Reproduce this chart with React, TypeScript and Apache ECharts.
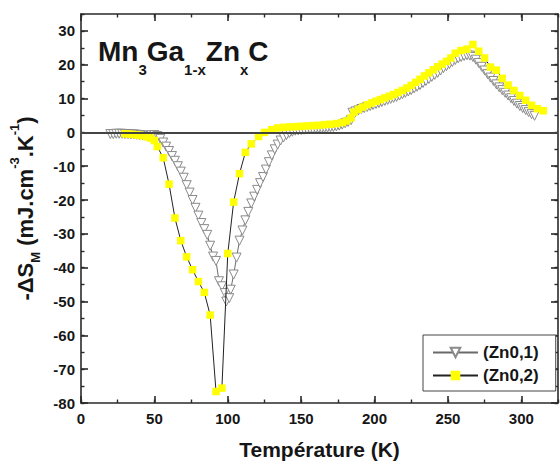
import React, { useEffect, useRef } from "react";
import * as echarts from "echarts";

const FONT = "'Liberation Sans', Arial, Helvetica, sans-serif";

// Zn0,1 : grey open down-triangles
const tempsZn01 = [
  20, 22, 24, 26, 28, 30, 32, 34, 36, 38, 40, 42, 44, 46, 48, 50, 52, 54, 56, 58,
  60, 62, 64, 66, 68, 70, 72, 74, 76, 78, 80, 82, 84, 86, 88, 90, 92, 94, 96, 98,
  99, 101, 102, 104, 106, 108, 110, 112, 114, 116, 118, 120, 122, 124, 126, 128, 130, 132, 134, 136,
  138, 140, 142, 144, 146, 148, 150, 152, 154, 156, 158, 160, 162, 164, 166, 168, 170, 172, 174, 176,
  178, 180, 182, 184, 185, 187, 189, 191, 193, 195, 197, 199, 201, 203, 205, 207, 209, 211, 213, 215,
  217, 219, 221, 223, 225, 227, 229, 231, 233, 235, 237, 239, 241, 243, 245, 247, 249, 251, 253, 255,
  257, 259, 261, 263, 265, 267, 269, 271, 273, 275, 277, 279, 281, 283, 285, 287, 289, 291, 293, 295,
  297, 299, 301, 303, 305, 307, 309,
];
const valuesZn01 = [
  -0.5, -0.5, -0.4, -0.4, -0.4, -0.5, -0.5, -0.6, -0.6, -0.7, -0.8, -0.9, -1.0, -1.0, -0.9, -0.8, -1.1, -1.9, -3.0, -4.2,
  -5.5, -7.0, -8.4, -10.0, -11.6, -13.4, -15.6, -17.8, -20.0, -22.3, -24.6, -26.8, -28.6, -30.3, -33.5, -36.7, -38.0, -44.0, -45.5, -47.5,
  -50.0, -49.0, -46.5, -42.0, -37.0, -32.0, -29.0, -26.0, -23.5, -21.0, -19.0, -17.0, -15.0, -13.2, -11.0, -8.8, -6.8, -5.0, -3.6, -2.4,
  -1.5, -0.8, -0.2, 0.2, 0.5, 0.6, 0.7, 0.8, 0.9, 1.0, 1.0, 1.1, 1.2, 1.2, 1.3, 1.4, 1.5, 1.6, 1.8, 2.0,
  2.3, 2.7, 3.1, 3.6, 5.8, 6.2, 6.5, 6.9, 7.2, 7.5, 7.8, 8.1, 8.4, 8.7, 9.0, 9.3, 9.6, 9.9, 10.2, 10.5,
  10.9, 11.3, 11.7, 12.1, 12.5, 13.0, 13.5, 14.0, 14.6, 15.2, 15.8, 16.4, 17.0, 17.6, 18.3, 19.0, 19.6, 20.2, 20.8, 21.4,
  21.9, 22.3, 22.6, 22.8, 22.7, 22.3, 21.5, 20.5, 19.4, 18.3, 17.2, 16.2, 15.2, 14.2, 13.3, 12.5, 11.7, 10.9, 10.1, 9.3,
  8.5, 7.8, 7.2, 6.6, 6.0, 5.4, 4.9,
];

// Zn0,2 : yellow squares
const tempsZn02 = [
  30, 32.5, 35, 37.5, 40, 42.5, 45, 47.5, 50, 52, 56, 60, 64, 68, 72, 76, 80, 84, 88, 92,
  96, 100, 104, 108, 112, 116, 121, 125, 130, 134, 138, 142, 146, 150, 154, 158, 162, 166, 170, 174,
  178, 181, 184, 186, 189, 192, 195, 198, 201, 204, 207, 210, 213, 216, 219, 222, 225, 228, 231, 234,
  237, 240, 243, 246, 249, 252, 255, 259, 263, 267, 271, 275, 279, 283, 287, 291, 295, 299, 303, 307,
  311, 315,
];
const valuesZn02 = [
  -0.4, -0.5, -0.6, -0.7, -0.8, -1.0, -1.3, -1.7, -2.4, -4.2, -7.5, -15.3, -25.3, -32.0, -36.8, -40.6, -44.1, -47.3, -54.0, -76.6,
  -75.6, -35.8, -20.6, -12.2, -5.9, -3.4, -1.2, 0.0, 0.8, 1.3, 1.5, 1.6, 1.7, 1.8, 1.9, 2.0, 2.1, 2.3, 2.4, 2.6,
  2.9, 3.4, 4.3, 6.0, 6.8, 7.5, 8.2, 8.7, 9.2, 9.7, 10.2, 10.7, 11.2, 11.8, 12.4, 13.1, 13.9, 14.8, 15.7, 16.7,
  17.6, 18.5, 19.4, 20.2, 21.0, 22.0, 23.4, 24.2, 24.6, 26.0, 24.0, 22.0, 19.3, 18.4, 16.0, 14.0, 12.4, 10.9, 9.5, 8.0,
  7.0, 6.4,
];

const seriesNames = ["(Zn0,1)", "(Zn0,2)"];
const xMajorTicks = [0, 50, 100, 150, 200, 250, 300];
const yMajorTicks = [-80, -70, -60, -50, -40, -30, -20, -10, 0, 10, 20, 30];

const AXIS_COLOR = "#2a2a2a";
const TEXT_COLOR = "#161616";

function majorX(position: string, labels: boolean) {
  return {
    type: "value",
    position,
    min: 0,
    max: 325,
    interval: 50,
    axisLine: { show: true, onZero: false, lineStyle: { color: AXIS_COLOR, width: 1.6 } },
    axisTick: { show: true, inside: true, length: 7, customValues: xMajorTicks, lineStyle: { color: AXIS_COLOR, width: 1.6 } },
    axisLabel: {
      show: labels,
      customValues: xMajorTicks,
      margin: 8,
      fontSize: 15,
      fontWeight: "bold",
      fontFamily: FONT,
      color: TEXT_COLOR,
    },
    splitLine: { show: false },
  };
}
function minorX(position: string) {
  return {
    type: "value",
    position,
    min: 0,
    max: 325,
    interval: 25,
    axisLine: { show: false, onZero: false },
    axisTick: { show: true, inside: true, length: 3.5, lineStyle: { color: AXIS_COLOR, width: 1.4 } },
    axisLabel: { show: false },
    splitLine: { show: false },
  };
}
function majorY(position: string, labels: boolean) {
  return {
    type: "value",
    position,
    min: -80,
    max: 35,
    interval: 10,
    axisLine: { show: true, onZero: false, lineStyle: { color: AXIS_COLOR, width: 1.6 } },
    axisTick: { show: true, inside: true, length: 7, customValues: yMajorTicks, lineStyle: { color: AXIS_COLOR, width: 1.6 } },
    axisLabel: {
      show: labels,
      customValues: yMajorTicks,
      margin: 6,
      fontSize: 15,
      fontWeight: "bold",
      fontFamily: FONT,
      color: TEXT_COLOR,
    },
    splitLine: { show: false },
  };
}
function minorY(position: string) {
  return {
    type: "value",
    position,
    min: -80,
    max: 35,
    interval: 5,
    axisLine: { show: false, onZero: false },
    axisTick: { show: true, inside: true, length: 3.5, lineStyle: { color: AXIS_COLOR, width: 1.4 } },
    axisLabel: { show: false },
    splitLine: { show: false },
  };
}

export default function App() {
  const ref = useRef<HTMLDivElement>(null);

  useEffect(() => {
    if (!ref.current) return;
    const chart = echarts.init(ref.current, null, { renderer: "svg" });

    const dataZn01 = tempsZn01.map((t, i) => [t, valuesZn01[i]]);
    const dataZn02 = tempsZn02.map((t, i) => [t, valuesZn02[i]]);

    const xBottom: any = majorX("bottom", true);
    xBottom.name = "Température (K)";
    xBottom.nameLocation = "middle";
    xBottom.nameGap = 36;
    xBottom.nameTextStyle = { fontSize: 21, fontWeight: "bold", fontFamily: FONT, color: TEXT_COLOR };

    const yLeft: any = majorY("left", true);
    yLeft.name = "{m|-ΔS}{s|M}{m| (mJ.cm}{p|-3}{m|.K}{p|-1}{m|)}";
    yLeft.nameLocation = "middle";
    yLeft.nameRotate = 90;
    yLeft.nameGap = 32;
    yLeft.nameTextStyle = {
      fontSize: 22,
      fontWeight: "bold",
      fontFamily: FONT,
      color: TEXT_COLOR,
      rich: {
        m: { fontSize: 22, lineHeight: 34, fontWeight: "bold", fontFamily: FONT, color: TEXT_COLOR },
        s: { fontSize: 13, lineHeight: 13, verticalAlign: "bottom", fontWeight: "bold", fontFamily: FONT, color: TEXT_COLOR },
        p: { fontSize: 13, lineHeight: 13, verticalAlign: "top", fontWeight: "bold", fontFamily: FONT, color: TEXT_COLOR },
      },
    };

    const option: any = {
      animation: false,
      backgroundColor: "#ffffff",
      grid: { left: 81, top: 14, right: 2, bottom: 62, containLabel: false },
      xAxis: [xBottom, majorX("top", false), minorX("bottom"), minorX("top")],
      yAxis: [yLeft, majorY("right", false), minorY("left"), minorY("right")],
      legend: {
        orient: "vertical",
        left: 423,
        top: 335,
        data: seriesNames,
        itemWidth: 45,
        itemHeight: 12,
        itemGap: 6,
        padding: [9, 17, 7, 9],
        backgroundColor: "#ffffff",
        borderColor: "#444",
        borderWidth: 1,
        borderRadius: 0,
        textStyle: { fontSize: 17, fontWeight: "bold", fontFamily: FONT, color: TEXT_COLOR },
      },
      graphic: [
        {
          type: "text",
          x: 98,
          y: 26,
          style: {
            text: "{m|Mn}{s|3}{m|Ga}{s|1-x}{m|Zn}{s|x}{m|C}",
            verticalAlign: "top",
            align: "left",
            rich: {
              m: { fontSize: 28, lineHeight: 51, fontWeight: "bold", fontFamily: FONT, fill: TEXT_COLOR },
              s: { fontSize: 15, lineHeight: 15, verticalAlign: "bottom", fontWeight: "bold", fontFamily: FONT, fill: TEXT_COLOR },
            },
          },
        },
      ],
      series: [
        {
          type: "line",
          name: seriesNames[0],
          xAxisIndex: 0,
          yAxisIndex: 0,
          data: dataZn01,
          symbol: "triangle",
          symbolRotate: 180,
          symbolSize: 9,
          itemStyle: { color: "#ffffff", borderColor: "#8a8a8a", borderWidth: 1 },
          lineStyle: { color: "#6a6a6a", width: 1 },
          emphasis: { disabled: true },
          markLine: {
            silent: true,
            symbol: "none",
            label: { show: false },
            lineStyle: { color: "#444", width: 2, type: "solid" },
            data: [{ yAxis: 0 }],
          },
          z: 2,
        },
        {
          type: "line",
          name: seriesNames[1],
          xAxisIndex: 0,
          yAxisIndex: 0,
          data: dataZn02,
          symbol: "rect",
          symbolSize: 7.5,
          itemStyle: { color: "#ffff00", borderWidth: 0 },
          lineStyle: { color: "#222222", width: 1 },
          emphasis: { disabled: true },
          z: 3,
        },
      ],
    };

    chart.setOption(option);
    return () => chart.dispose();
  }, []);

  return (
    <div
      ref={ref}
      style={{ position: "absolute", left: 0, top: 0, width: 560, height: 465 }}
    />
  );
}
